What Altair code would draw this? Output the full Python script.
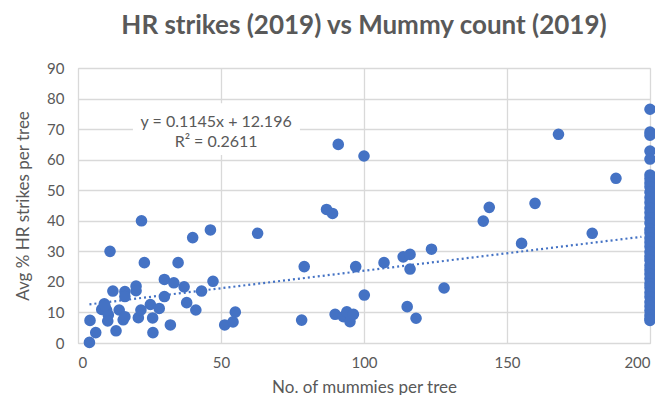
import altair as alt
import pandas as pd

# Scatter points
mummies = [4.0, 4.2, 6.2, 11.2, 12.2, 9.2, 8.3, 10.0, 10.6, 10.4, 9.4, 13.3, 14.4, 15.8,
           16.4, 16.4, 16.4, 20.3, 20.3, 21.1, 22.2, 22.0, 23.2, 25.3, 26.1, 26.2, 28.4,
           30.2, 30.2, 32.3, 33.5, 35.0, 37.1, 38.0, 40.1, 41.2, 43.2, 46.3, 47.2, 51.3,
           54.2, 55.0, 62.8, 78.2, 79.1, 86.9, 89.0, 91.0, 89.9, 92.8, 94.0, 95.1, 96.3,
           97.1, 100.0, 100.1, 107.0, 113.7, 116.1, 116.1, 115.1, 118.2, 123.6, 128.0,
           141.7, 143.8, 155.1, 159.8, 168.0, 179.8, 188.1]
strikes = [0.2, 7.4, 3.4, 30.0, 17.0, 12.8, 11.0, 10.8, 9.2, 7.2, 12.2, 4.0, 10.8, 7.6,
           8.6, 16.8, 15.2, 18.6, 17.1, 8.3, 40.0, 10.8, 26.3, 12.6, 8.2, 3.4, 11.3,
           20.8, 15.2, 5.9, 19.7, 26.3, 18.4, 13.2, 34.5, 10.8, 17.0, 37.0, 20.2, 5.9,
           6.9, 10.1, 35.9, 7.5, 25.0, 43.7, 42.4, 65.0, 9.4, 8.6, 10.2, 7.0, 9.4,
           25.0, 61.2, 15.7, 26.3, 28.2, 29.0, 24.2, 11.9, 8.1, 30.7, 18.0,
           39.9, 44.4, 32.6, 45.7, 68.3, 35.9, 53.9]
# Trees capped at 200 mummies
capped_strikes = [76.5, 69.0, 68.0, 62.8, 60.2, 55.0, 53.8, 52.4, 51.1, 49.3, 47.6, 46.0,
                  44.2, 42.7, 41.0, 39.3, 37.2, 36.1, 34.4, 33.0, 31.6, 29.8, 28.3, 27.1,
                  25.4, 24.0, 22.6, 21.1, 19.4, 18.2, 16.5, 15.1, 13.4, 12.0, 10.6, 9.1,
                  8.0, 7.4]

slope = 0.1145
intercept = 12.196
trend_x = [4, 197]

x_ticks = [0, 50, 100, 150, 200]
y_ticks = [0, 10, 20, 30, 40, 50, 60, 70, 80, 90]

BLUE = "#4472C4"
GRAY = "#595959"
FONT = "Lato"

pts = pd.DataFrame({
    "x": mummies + [200] * len(capped_strikes),
    "y": strikes + capped_strikes,
})
trend = pd.DataFrame({"x": trend_x})
label_box = pd.DataFrame({"x": [19.2], "x2": [77.6], "y": [61.5], "y2": [78.5]})
labels = pd.DataFrame({
    "x": [48.3, 48.3],
    "y": [72.3, 65.8],
    "t": ["y = 0.1145x + 12.196", "R² = 0.2611"],
})

xscale = alt.Scale(domain=[0, 200], nice=False)
yscale = alt.Scale(domain=[0, 90], nice=False)

xaxis = alt.Axis(values=x_ticks, title="No. of mummies per tree", grid=True,
                 ticks=False, labelPadding=12, titlePadding=9, labelOverlap=False)
yaxis = alt.Axis(values=y_ticks, title="Avg % HR strikes per tree", grid=True,
                 ticks=False, labelPadding=14, titlePadding=14, labelOverlap=False)

X = lambda f: alt.X(f, type="quantitative", scale=xscale, axis=xaxis)
Y = lambda f: alt.Y(f, type="quantitative", scale=yscale, axis=yaxis)

base_pts = alt.Chart(pts).mark_circle(size=135, color=BLUE, opacity=1).encode(
    x=X("x"), y=Y("y"),
)

trend_line = alt.Chart(trend).transform_calculate(
    y=f"{slope} * datum.x + {intercept}"
).mark_line(color=BLUE, strokeDash=[2, 3], strokeWidth=2.2).encode(
    x=X("x"), y=Y("y"),
)

box = alt.Chart(label_box).mark_rect(color="white").encode(
    x=X("x"), x2="x2:Q", y=Y("y"), y2="y2:Q",
)

txt = alt.Chart(labels).mark_text(font=FONT, fontSize=16, color=GRAY,
                                  align="center", baseline="middle").encode(
    x=X("x"), y=Y("y"), text="t:N",
)

chart = alt.layer(box, trend_line, base_pts, txt).properties(
    width=572,
    height=275,
    autosize=alt.AutoSizeParams(type="none"),
    padding={"left": 70, "top": 60, "right": 5, "bottom": 52},
    title=alt.TitleParams(
        text="HR strikes (2019) vs Mummy count (2019)",
        font=FONT, fontSize=26, fontWeight="bold", color=GRAY,
        anchor="middle", offset=22,
    ),
).configure_view(stroke="#d9d9d9", strokeWidth=1).configure_axis(
    gridColor="#d9d9d9", gridWidth=1.3, domainColor="#d9d9d9",
    labelFont=FONT, labelFontSize=15, labelColor=GRAY,
    titleFont=FONT, titleFontSize=17, titleColor=GRAY, titleFontWeight="normal",
)

chart.save("out.html", embed_options={"renderer": "svg", "actions": False})
